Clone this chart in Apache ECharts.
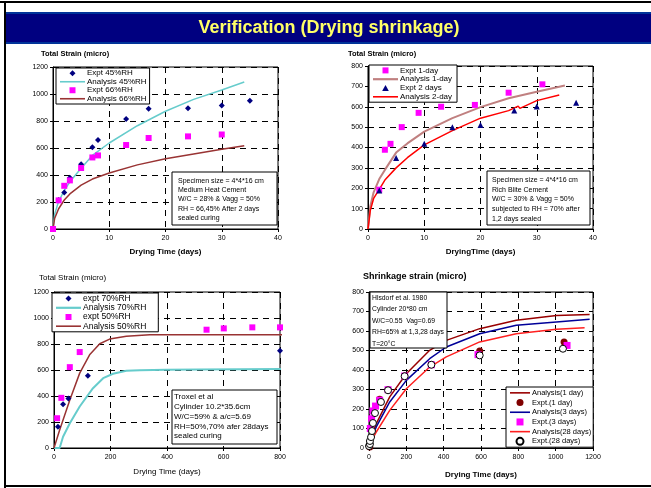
<!DOCTYPE html>
<html>
<head>
<meta charset="utf-8">
<script src="https://cdn.jsdelivr.net/npm/echarts@6/dist/echarts.min.js"></script>
<style>
  html, body { margin: 0; padding: 0; background: #fff; }
  #main { width: 651px; height: 488px; }
</style>
</head>
<body>
<div id="main"></div>
<script>
// top left: 4*4*16 cm specimen, medium heat cement
const c1Expt45 = [[0,0],[1,215],[2,270],[3,380],[5,480],[7,605],[8,660],[13,815],[17,890],[24,895],[30,915],[35,950]];
const c1Expt66 = [[0,0],[1,212],[2,320],[3,360],[5,452],[7,530],[8,545],[13,622],[17,674],[24,686],[30,700]];
const c1Ana45 = [[0,0],[0.3,110],[1,205],[2,285],[3,350],[5,450],[7,545],[10,637],[15,765],[20,872],[25,960],[30,1030],[34,1089]];
const c1Ana66 = [[0,0],[0.3,80],[1,150],[2,215],[3,260],[5,325],[7,370],[10,415],[15,475],[20,520],[25,555],[30,590],[34,617]];

// top right: rich blite cement
const c2Expt1 = [[2,193],[3,389],[4,418],[6,500],[9,570],[13,600],[19,609],[25,669],[31,710]];
const c2Expt2 = [[2,189],[5,348],[10,418],[15,500],[20,511],[26,581],[30,601],[37,620]];
const c2Ana1 = [[0,0],[0.4,110],[1,180],[2,245],[3,290],[5,375],[7,420],[10,478],[15,544],[20,598],[25,642],[30,674],[35,704]];
const c2Ana2 = [[0,0],[0.4,90],[1,150],[2,195],[3,240],[5,300],[7,350],[10,413],[15,483],[20,544],[25,581],[26.7,603],[27,592],[30,630],[34,658]];

// bottom left: Troxell et al
const c3Expt70 = [[14,164],[32,337],[51,380],[120,555],[800,748]];
const c3Expt50 = [[11,229],[26,386],[56,622],[91,738],[540,910],[601,920],[702,928],[800,928]];
const c3Ana70 = [[0,0],[20,0],[32,87],[56,190],[91,319],[138,460],[174,537],[209,571],[256,594],[304,599],[398,602],[516,604],[812,607]];
const c3Ana50 = [[0,0],[20,139],[56,370],[91,576],[126,717],[162,802],[197,838],[256,859],[339,871],[812,871]];

// bottom right: Hilsdorf et al 1980
const c4Ana1 = [[0,0],[10,50],[39,125],[111,262],[200,381],[325,501],[414,552],[593,612],[789,655],[1004,680],[1182,685]];
const c4Ana3 = [[0,0],[10,42],[39,108],[111,236],[200,347],[325,458],[414,518],[593,586],[789,629],[1004,646],[1182,660]];
const c4Ana28 = [[0,0],[10,30],[39,82],[111,193],[200,304],[325,415],[414,467],[593,544],[789,586],[1004,609],[1155,617]];
const c4Expt1 = [[4,5],[57,250],[102,299],[191,369],[334,427],[593,497],[1045,543]];
const c4Expt3 = [[7,100],[14,150],[21,190],[35,215],[57,245],[102,299],[191,369],[334,427],[584,479],[1061,526]];
const c4Expt28 = [[0,10],[5,20],[5,36],[11,56],[16,87],[21,128],[32,179],[64,236],[102,296],[191,368],[334,427],[593,475],[1039,509]];

const F = 'Liberation Sans, Arial, sans-serif';

// legend icons (keep aspect so markers stay square)
const SQ = 'path://M0,0L10,0L10,10L0,10Z';
const DIA = 'path://M5,0L10,5L5,10L0,5Z';
const TRI = 'path://M5,0L10,9L0,9Z';
const CIRC = 'path://M0,5A5,5,0,1,1,10,5A5,5,0,1,1,0,5Z';
const lineIcon = (w, h) => 'path://M0,0L' + w + ',0L' + w + ',' + h + 'L0,' + h + 'Z';

const chart = echarts.init(document.getElementById('main'));

function xAx(idx, max, interval, name, bold, gap) {
  return {
    type: 'value', gridIndex: idx, min: 0, max: max, interval: interval,
    name: name, nameLocation: 'middle', nameGap: gap,
    nameTextStyle: { fontFamily: F, fontSize: 8, fontWeight: bold ? 'bold' : 'normal', color: '#000' },
    axisLine: { lineStyle: { color: '#000', width: 1 } },
    axisTick: { show: true, length: 3, lineStyle: { color: '#000' } },
    axisLabel: { fontFamily: F, fontSize: 7, color: '#000', margin: 6, formatter: v => String(v) },
    splitLine: { show: true, lineStyle: { color: '#000', type: [6, 5], width: 1 } }
  };
}
function yAx(idx, max, interval) {
  return {
    type: 'value', gridIndex: idx, min: 0, max: max, interval: interval,
    axisLine: { show: true, lineStyle: { color: '#000', width: 1 } },
    axisTick: { show: true, length: 3, lineStyle: { color: '#000' } },
    axisLabel: { fontFamily: F, fontSize: 7, color: '#000', margin: 5, formatter: v => String(v) },
    splitLine: { show: true, lineStyle: { color: '#000', type: [6, 5], width: 1 } }
  };
}
function legendBox(left, top, items, size, lh, iw, ih, padR) {
  return {
    data: items, left: left, top: top, orient: 'vertical',
    itemWidth: iw, itemHeight: ih, itemGap: 0, padding: [1, padR, 1, 4],
    borderColor: '#000', borderWidth: 1, backgroundColor: '#fff',
    textStyle: { fontFamily: F, fontSize: size, lineHeight: lh, color: '#000', padding: [0, 0, 0, -3] }
  };
}
function noteBox(x, y, w, h, lines, size, gap, tx, ty) {
  return {
    type: 'group', z: 100,
    children: [
      { type: 'rect', z: 100, shape: { x: x, y: y, width: w, height: h }, style: { fill: '#fff', stroke: '#000', lineWidth: 1 } },
      { type: 'text', z: 101, x: x + tx, y: y + ty, style: { text: lines.join('\n'), font: size + 'px ' + F, lineHeight: gap, fill: '#000' } }
    ]
  };
}
function ana(name, data, xi, color, width) {
  return { name: name, type: 'line', xAxisIndex: xi, yAxisIndex: xi, data: data, symbol: 'none',
    lineStyle: { color: color, width: width }, itemStyle: { color: color }, clip: false, z: 3 };
}
function expt(name, data, xi, symbol, size, color, border) {
  return { name: name, type: 'scatter', xAxisIndex: xi, yAxisIndex: xi, data: data, symbol: symbol, symbolSize: size,
    itemStyle: { color: color, borderColor: border || color, borderWidth: border ? 1 : 0, opacity: 1 }, z: 4 };
}

const L25 = lineIcon(25, 1.6);
const L25b = lineIcon(25, 2.2);
const L20 = lineIcon(20, 1.6);

const option = {
  animation: false,
  backgroundColor: '#fff',
  grid: [
    { left: 53, top: 67, width: 225, height: 162, show: true, borderColor: '#000', borderWidth: 1 },
    { left: 368, top: 66, width: 225, height: 163, show: true, borderColor: '#000', borderWidth: 1 },
    { left: 54, top: 292, width: 226, height: 156, show: true, borderColor: '#000', borderWidth: 1 },
    { left: 369, top: 292, width: 224, height: 156, show: true, borderColor: '#000', borderWidth: 1 }
  ],
  xAxis: [
    xAx(0, 40, 10, 'Drying Time (days)', true, 19),
    xAx(1, 40, 10, 'DryingTime (days)', true, 19),
    xAx(2, 800, 200, 'Drying Time (days)', false, 20),
    xAx(3, 1200, 200, 'Drying Time (days)', true, 23)
  ],
  yAxis: [
    yAx(0, 1200, 200),
    yAx(1, 800, 100),
    yAx(2, 1200, 200),
    yAx(3, 800, 100)
  ],
  legend: [
    legendBox(56, 68, [
      { name: 'Expt 45%RH', icon: DIA }, { name: 'Analysis 45%RH', icon: L25 },
      { name: 'Expt 66%RH', icon: SQ }, { name: 'Analysis 66%RH', icon: L25 }
    ], 8, 8.5, 25, 6, 3),
    legendBox(369, 65, [
      { name: 'Expt 1-day', icon: SQ }, { name: 'Analysis 1-day', icon: L25b },
      { name: 'Expt 2 days', icon: TRI }, { name: 'Analysis 2-day', icon: L25 }
    ], 8, 8.8, 25, 6, 5),
    legendBox(52, 293, [
      { name: 'expt 70%RH', icon: DIA }, { name: 'Analysis 70%RH', icon: L25b },
      { name: 'expt 50%RH', icon: SQ }, { name: 'Analysis 50%RH', icon: L25 }
    ], 8.5, 9.2, 25, 6, 12),
    legendBox(506, 387, [
      { name: 'Analysis(1 day)', icon: L20 }, { name: 'Expt.(1 day)', icon: CIRC },
      { name: 'Analysis(3 days)', icon: L20 }, { name: 'Expt.(3 days)', icon: SQ },
      { name: 'Analysis(28 days)', icon: L20 }, { name: 'Expt.(28 days)', icon: CIRC }
    ], 7.5, 9.7, 20, 7, 2)
  ],
  series: [
    expt('Expt 45%RH', c1Expt45, 0, 'diamond', 6, '#000080'),
    ana('Analysis 45%RH', c1Ana45, 0, '#66CCCC', 1.5),
    expt('Expt 66%RH', c1Expt66, 0, 'rect', 6, '#FF00FF'),
    ana('Analysis 66%RH', c1Ana66, 0, '#993333', 1.5),

    expt('Expt 1-day', c2Expt1, 1, 'rect', 6, '#FF00FF'),
    ana('Analysis 1-day', c2Ana1, 1, '#C08080', 2),
    expt('Expt 2 days', c2Expt2, 1, 'triangle', 6, '#000080'),
    ana('Analysis 2-day', c2Ana2, 1, '#FF0000', 1.5),

    expt('expt 70%RH', c3Expt70, 2, 'diamond', 6, '#000080'),
    ana('Analysis 70%RH', c3Ana70, 2, '#66CCCC', 2),
    expt('expt 50%RH', c3Expt50, 2, 'rect', 6, '#FF00FF'),
    ana('Analysis 50%RH', c3Ana50, 2, '#993333', 1.5),

    ana('Analysis(1 day)', c4Ana1, 3, '#990000', 1.5),
    expt('Expt.(1 day)', c4Expt1, 3, 'circle', 7, '#800000'),
    ana('Analysis(3 days)', c4Ana3, 3, '#000099', 1.5),
    expt('Expt.(3 days)', c4Expt3, 3, 'rect', 7, '#FF00FF'),
    ana('Analysis(28 days)', c4Ana28, 3, '#FF2020', 1.5),
    expt('Expt.(28 days)', c4Expt28, 3, 'circle', 7, '#fff', '#000')
  ],
  graphic: [
    // slide frame
    { type: 'rect', shape: { x: 0, y: 1, width: 651, height: 2 }, style: { fill: '#000' } },
    { type: 'rect', shape: { x: 4, y: 1, width: 2, height: 487 }, style: { fill: '#000' } },
    { type: 'rect', shape: { x: 4, y: 485, width: 647, height: 2 }, style: { fill: '#000' } },
    // title bar
    { type: 'rect', shape: { x: 6, y: 12, width: 645, height: 32 }, style: { fill: '#003399' } },
    { type: 'rect', shape: { x: 6, y: 14, width: 645, height: 28 }, style: { fill: '#000080' } },
    { type: 'text', x: 329, y: 28, style: { text: 'Verification (Drying shrinkage)', font: 'bold 18px ' + F, fill: '#FFFF66', align: 'center', verticalAlign: 'middle' } },
    // axis titles
    { type: 'text', x: 41, y: 54, style: { text: 'Total Strain (micro)', font: 'bold 7.5px ' + F, fill: '#000', verticalAlign: 'middle' } },
    { type: 'text', x: 348, y: 54, style: { text: 'Total Strain (micro)', font: 'bold 7.5px ' + F, fill: '#000', verticalAlign: 'middle' } },
    { type: 'text', x: 39, y: 278, style: { text: 'Total Strain (micro)', font: '8px ' + F, fill: '#000', verticalAlign: 'middle' } },
    { type: 'text', x: 363, y: 277, style: { text: 'Shrinkage strain (micro)', font: 'bold 9px ' + F, fill: '#000', verticalAlign: 'middle' } },
    // notes
    noteBox(172, 172, 105, 53, ['Specimen size = 4*4*16 cm', 'Medium Heat Cement', 'W/C = 28% & Vagg = 50%', 'RH = 66,45% After 2 days', 'sealed curing'], 7, 9.4, 6, 4),
    noteBox(487, 171, 103, 54, ['Specimen size = 4*4*16 cm', 'Rich Blite Cement', 'W/C = 30% & Vagg = 50%', 'subjected to RH = 70% after', '1,2 days sealed'], 7, 9.8, 5, 4),
    noteBox(172, 390, 105, 54, ['Troxel et al', 'Cylinder 10.2*35.6cm', 'W/C=59% & a/c=5.69', 'RH=50%,70% afer 28days', 'sealed curing'], 8, 9.8, 2, 2),
    noteBox(370, 292, 77, 56, ['Hlsdorf et al. 1980', 'Cylinder 20*80 cm', 'W/C=0.55  Vag=0.69', 'RH=65% at 1,3,28 days', 'T=20\u00b0C'], 6.8, 11.5, 2, 0)
  ]
};

chart.setOption(option);
</script>
</body>
</html>
